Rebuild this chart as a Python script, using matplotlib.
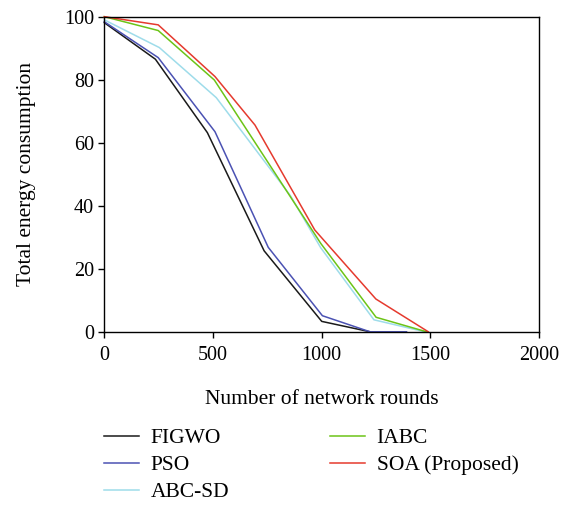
import matplotlib
matplotlib.use("Agg")
from matplotlib import pyplot as plt

# data
series_names = ["FIGWO", "PSO", "ABC-SD", "IABC", "SOA (Proposed)"]

figwo_x = [0, 235, 474, 735, 1000, 1222]
figwo_y = [98.1, 86.5, 63.2, 25.7, 3.3, 0]

pso_x = [0, 248, 509, 754, 1003, 1222, 1390]
pso_y = [98.4, 87.0, 63.5, 26.8, 5.1, 0, 0]

abcsd_x = [0, 253, 515, 856, 995, 1240, 1474]
abcsd_y = [99.0, 90.2, 74.3, 43.2, 26.7, 3.8, 0]

iabc_x = [0, 248, 506, 996, 1250, 1482]
iabc_y = [100, 95.6, 79.9, 28.0, 4.6, 0]

soa_x = [0, 248, 509, 693, 968, 1249, 1490]
soa_y = [100, 97.4, 81.0, 65.6, 32.3, 10.4, 0]

colors = ["#1a1a1a", "#4b52b3", "#9edcea", "#6cc417", "#e53a2e"]

plt.rcParams["font.family"] = ["Liberation Serif", "DejaVu Serif"]

fig = plt.figure(figsize=(5.73, 5.05), dpi=100)
ax = fig.add_axes([0.182, 0.343, 0.759, 0.624])

xs = [figwo_x, pso_x, abcsd_x, iabc_x, soa_x]
ys = [figwo_y, pso_y, abcsd_y, iabc_y, soa_y]
for x, y, c, name in zip(xs, ys, colors, series_names):
    ax.plot(x, y, color=c, lw=1.1, label=name, clip_on=False)

ax.set_xlim(0, 2000)
ax.set_ylim(0, 100)
ax.set_xticks([0, 500, 1000, 1500, 2000])
ax.set_yticks([0, 20, 40, 60, 80, 100])
ax.tick_params(direction="out", length=4, width=1, labelsize=14.5, top=False, right=False)
ax.tick_params(axis="x", pad=6)
for s in ax.spines.values():
    s.set_linewidth(1.0)

ax.set_xlabel("Number of network rounds", fontsize=15.5, labelpad=18)
ax.set_ylabel("Total energy consumption", fontsize=15.5, labelpad=20)

fig.legend(loc="upper left", bbox_to_anchor=(0.182, 0.152), ncol=2, frameon=False,
           fontsize=15.5, handlelength=1.6, handletextpad=0.55, labelspacing=0.32,
           columnspacing=4.7, borderpad=0, borderaxespad=0)

plt.savefig("out.png", dpi=100)
